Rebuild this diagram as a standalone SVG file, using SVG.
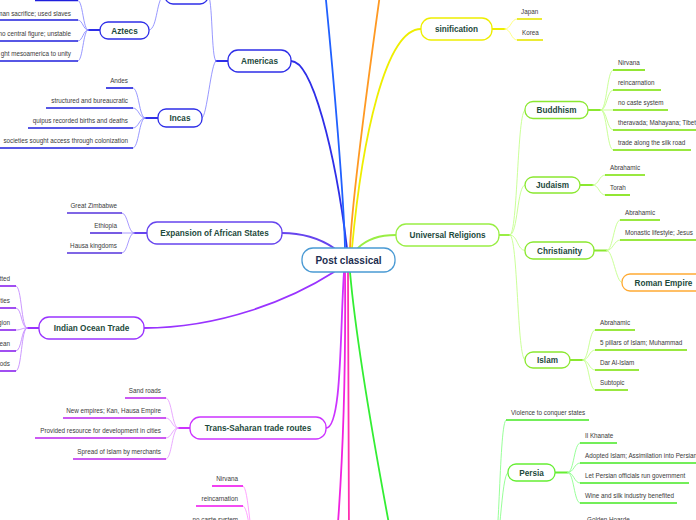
<svg xmlns="http://www.w3.org/2000/svg" width="696" height="520" viewBox="0 0 696 520">
<style>
.c{fill:none;stroke-linecap:round}
.m{stroke-width:1.8}
.s{stroke-width:0.9}
.u{fill:none;stroke-width:1.6}
.box{fill:#fff;stroke-width:1.3}
.l{font-family:"Liberation Sans",Arial,sans-serif;font-size:6.3px;fill:#3a3a3a}
.e{text-anchor:end}
.nt{font-family:"Liberation Sans",Arial,sans-serif;font-size:8.2px;font-weight:bold;fill:#1d4a3c;text-anchor:middle}
.ct{font-family:"Liberation Sans",Arial,sans-serif;font-size:10px;font-weight:bold;fill:#1c2e50;text-anchor:middle}
.am{stroke:#2e2ee8}.amL{stroke:#8c8cff}.amU{stroke:#1f1fdd}
.lb{stroke:#2060ff}
.or{stroke:#ff9922}
.ye{stroke:#eeee00}.yeL{stroke:#ffff77}.yeU{stroke:#e6e600}
.ur{stroke:#99ee44}.urL{stroke:#c4ff8c}.urU{stroke:#77e000}.urB{stroke:#8be830}
.ro{stroke:#ffaa33}
.ex{stroke:#6644ee}.exL{stroke:#a090ff}.exU{stroke:#5533dd}
.io{stroke:#9933ff}.ioL{stroke:#c58cff}.ioU{stroke:#8a22ee}
.ts{stroke:#cc33ff}.tsL{stroke:#e6a0ff}.tsU{stroke:#bb22ee}
.mg{stroke:#f022e0}.pk{stroke:#ff2fb0}.mgL{stroke:#ff99ff}.mgU{stroke:#ee11ee}
.gr{stroke:#33ee33}.grL{stroke:#8cff8c}.grU{stroke:#44e822}.grB{stroke:#66ee33}
.cen{stroke:#4a9ad4}
</style>

<g id="connectors">
<!-- main branches -->
<path class="c m am" d="M291,61 C312,61 335,150 347,248"/>
<path class="c m lb" d="M345,248 C344,200 334,80 324,-20"/>
<path class="c m or" d="M350,248 C352,200 368,80 382,-20"/>
<path class="c m ye" d="M352,248 C362,140 385,29 421,29"/>
<path class="c m ex" d="M282,233 C305,233 322,240 334,248"/>
<path class="c m io" d="M144,328 C220,328 290,300 334,272"/>
<path class="c m ur" d="M358,248 C368,238 380,235 396,235"/>
<path class="c m ts" d="M326,428 C342,428 340,330 344,272"/>
<path class="c m mg" d="M345,272 C346,380 343,470 335,560"/>
<path class="c m pk" d="M348,272 C348,380 349,460 349,540"/>
<path class="c m gr" d="M350,272 C356,340 375,450 392,540"/>
<!-- Americas -->
<path class="c m am" d="M228,61 L216,61"/>
<path class="c s amL" d="M216,61 C211,61 213,-5 208,-5"/>
<path class="c s amL" d="M216,61 C211,61 207,118 202,118"/>
<path class="c s amL" d="M165,-5 C156,-5 158,30 149,30"/>
<!-- Aztecs -->
<path class="c m am" d="M100,30 L88,30"/>
<path class="c s amL" d="M88,30 C83,30 83,0.5 78,0.5"/>
<path class="c s amL" d="M88,30 C83,30 83,20 78,20"/>
<path class="c s amL" d="M88,30 C83,30 83,41 78,41"/>
<path class="c s amL" d="M88,30 C83,30 83,61 78,61"/>
<!-- Incas -->
<path class="c m am" d="M158,118 L145,118"/>
<path class="c s amL" d="M145,118 C139,118 139,88 133,88"/>
<path class="c s amL" d="M145,118 C139,118 139,108 133,108"/>
<path class="c s amL" d="M145,118 C139,118 139,128 133,128"/>
<path class="c s amL" d="M145,118 C139,118 139,148 133,148"/>
<!-- Expansion -->
<path class="c m ex" d="M147,233 L134,233"/>
<path class="c s exL" d="M134,233 C128,233 128,213 122,213"/>
<path class="c s exL" d="M134,233 L122,233"/>
<path class="c s exL" d="M134,233 C128,233 128,253 122,253"/>
<!-- Indian Ocean -->
<path class="c m io" d="M39,328 L27,328"/>
<path class="c s ioL" d="M27,328 C21,328 22,286 16,286"/>
<path class="c s ioL" d="M27,328 C21,328 22,308 16,308"/>
<path class="c s ioL" d="M27,328 C21,328 22,330 16,330"/>
<path class="c s ioL" d="M27,328 C21,328 22,351 16,351"/>
<path class="c s ioL" d="M27,328 C21,328 22,371 16,371"/>
<!-- Trans-Saharan -->
<path class="c m ts" d="M190,428 L178,428"/>
<path class="c s tsL" d="M178,428 C172,428 172,398 166,398"/>
<path class="c s tsL" d="M178,428 C172,428 172,418 166,418"/>
<path class="c s tsL" d="M178,428 C172,428 172,438 166,438"/>
<path class="c s tsL" d="M178,428 C172,428 172,459 166,459"/>
<!-- bottom magenta group -->
<path class="c s mgL" d="M256,548 C250,548 249,486 243,486"/>
<path class="c s mgL" d="M256,548 C250,548 249,506 243,506"/>
<path class="c s mgL" d="M256,548 C250,548 249,526 243,526"/>
<!-- sinification -->
<path class="c m ye" d="M492,29 L505,29"/>
<path class="c s yeL" d="M505,29 C511,29 511,19 517,19"/>
<path class="c s yeL" d="M505,29 C511,29 511,40 517,40"/>
<!-- Universal Religions -->
<path class="c m ur" d="M499,235 L510,235"/>
<path class="c s urL" d="M510,235 C518,235 517,110 525,110"/>
<path class="c s urL" d="M510,235 C518,235 517,185 525,185"/>
<path class="c s urL" d="M510,235 C518,235 517,250.5 525,250.5"/>
<path class="c s urL" d="M510,235 C518,235 517,360 525,360"/>
<!-- Buddhism -->
<path class="c m urB" d="M588,110 L601,110"/>
<path class="c s urL" d="M601,110 C607,110 607,70 613,70"/>
<path class="c s urL" d="M601,110 C607,110 607,90 613,90"/>
<path class="c s urL" d="M601,110 L613,110"/>
<path class="c s urL" d="M601,110 C607,110 607,130 613,130"/>
<path class="c s urL" d="M601,110 C607,110 607,150 613,150"/>
<!-- Judaism -->
<path class="c m urB" d="M580,185 L593,185"/>
<path class="c s urL" d="M593,185 C599,185 599,175 605,175"/>
<path class="c s urL" d="M593,185 C599,185 599,195 605,195"/>
<!-- Christianity -->
<path class="c m urB" d="M594,250.5 L607,250.5"/>
<path class="c s urL" d="M607,250.5 C613,250.5 614,220 620,220"/>
<path class="c s urL" d="M607,250.5 C613,250.5 614,240 620,240"/>
<path class="c s urL" d="M607,250.5 C613,250.5 616,282.5 622,282.5"/>
<!-- Islam -->
<path class="c m urB" d="M570,360 L583,360"/>
<path class="c s urL" d="M583,360 C589,360 589,330 595,330"/>
<path class="c s urL" d="M583,360 C589,360 589,350 595,350"/>
<path class="c s urL" d="M583,360 C589,360 589,370 595,370"/>
<path class="c s urL" d="M583,360 C589,360 589,390 595,390"/>
<!-- lower green -->
<path class="c s grL" d="M493,560 C500,560 499,420 506,420"/>
<path class="c s grL" d="M493,560 C500,560 501,472.5 508,472.5"/>
<path class="c m grB" d="M555,472.5 L568,472.5"/>
<path class="c s grL" d="M568,472.5 C574,472.5 574,443 580,443"/>
<path class="c s grL" d="M568,472.5 C574,472.5 574,463 580,463"/>
<path class="c s grL" d="M568,472.5 C574,472.5 574,483 580,483"/>
<path class="c s grL" d="M568,472.5 C574,472.5 574,503 580,503"/>
</g>

<g id="n-central"><rect class="box cen" x="302" y="248" width="93" height="24" rx="11"/><text class="ct" x="348.5" y="263.6">Post classical</text></g>

<g id="n-americas"><rect class="box am" x="228" y="50" width="63" height="22" rx="10"/><text class="nt" x="259.5" y="64">Americas</text></g>
<g id="n-americas-top"><rect class="box am" x="165" y="-14" width="43" height="18" rx="8"/></g>
<g id="n-aztecs"><rect class="box am" x="100" y="22" width="49" height="17" rx="8"/><text class="nt" x="124.5" y="33.5">Aztecs</text></g>
<g id="n-az0"><line class="u amU" x1="35" y1="0.5" x2="78" y2="0.5"/></g>
<g id="n-az1"><text class="l e" x="71" y="15.5">man sacrifice; used slaves</text><line class="u amU" x1="0" y1="20" x2="78" y2="20"/></g>
<g id="n-az2"><text class="l e" x="71" y="36">no central figure; unstable</text><line class="u amU" x1="0" y1="41" x2="78" y2="41"/></g>
<g id="n-az3"><text class="l e" x="71" y="56">ght mesoamerica to unity</text><line class="u amU" x1="0" y1="61" x2="78" y2="61"/></g>
<g id="n-incas"><rect class="box am" x="158" y="109" width="44" height="18" rx="8"/><text class="nt" x="180" y="121">Incas</text></g>
<g id="n-in1"><text class="l e" x="128" y="83">Andes</text><line class="u amU" x1="106" y1="88" x2="133" y2="88"/></g>
<g id="n-in2"><text class="l e" x="128" y="103">structured and bureaucratic</text><line class="u amU" x1="46" y1="108" x2="133" y2="108"/></g>
<g id="n-in3"><text class="l e" x="128" y="123">quipus recorded births and deaths</text><line class="u amU" x1="28" y1="128" x2="133" y2="128"/></g>
<g id="n-in4"><text class="l e" x="128" y="143">societies sought access through colonization</text><line class="u amU" x1="0" y1="148" x2="133" y2="148"/></g>

<g id="n-expansion"><rect class="box ex" x="147" y="222" width="135" height="22" rx="10"/><text class="nt" x="214.5" y="236">Expansion of African States</text></g>
<g id="n-ex1"><text class="l e" x="117" y="208">Great Zimbabwe</text><line class="u exU" x1="67" y1="213" x2="122" y2="213"/></g>
<g id="n-ex2"><text class="l e" x="117" y="228">Ethiopia</text><line class="u exU" x1="90" y1="233" x2="122" y2="233"/></g>
<g id="n-ex3"><text class="l e" x="117" y="248">Hausa kingdoms</text><line class="u exU" x1="67" y1="253" x2="122" y2="253"/></g>

<g id="n-indian"><rect class="box io" x="39" y="317" width="105" height="22" rx="10"/><text class="nt" x="91.5" y="331">Indian Ocean Trade</text></g>
<g id="n-io1"><text class="l e" x="10" y="281">tted</text><line class="u ioU" x1="0" y1="286" x2="16" y2="286"/></g>
<g id="n-io2"><text class="l e" x="10" y="303">ties</text><line class="u ioU" x1="0" y1="308" x2="16" y2="308"/></g>
<g id="n-io3"><text class="l e" x="10" y="325">gion</text><line class="u ioU" x1="0" y1="330" x2="16" y2="330"/></g>
<g id="n-io4"><text class="l e" x="10" y="346">ean</text><line class="u ioU" x1="0" y1="351" x2="16" y2="351"/></g>
<g id="n-io5"><text class="l e" x="10" y="366">ods</text><line class="u ioU" x1="0" y1="371" x2="16" y2="371"/></g>

<g id="n-trans"><rect class="box ts" x="190" y="417" width="136" height="22" rx="10"/><text class="nt" x="258" y="431">Trans-Saharan trade routes</text></g>
<g id="n-ts1"><text class="l e" x="161" y="393">Sand roads</text><line class="u tsU" x1="125" y1="398" x2="166" y2="398"/></g>
<g id="n-ts2"><text class="l e" x="161" y="413">New empires; Kan, Hausa Empire</text><line class="u tsU" x1="63" y1="418" x2="166" y2="418"/></g>
<g id="n-ts3"><text class="l e" x="161" y="433">Provided resource for development in cities</text><line class="u tsU" x1="35" y1="438" x2="166" y2="438"/></g>
<g id="n-ts4"><text class="l e" x="161" y="454">Spread of Islam by merchants</text><line class="u tsU" x1="73" y1="459" x2="166" y2="459"/></g>

<g id="n-mg1"><text class="l e" x="238" y="481">Nirvana</text><line class="u mgU" x1="212" y1="486" x2="243" y2="486"/></g>
<g id="n-mg2"><text class="l e" x="238" y="501">reincarnation</text><line class="u mgU" x1="196" y1="506" x2="243" y2="506"/></g>
<g id="n-mg3"><text class="l e" x="238" y="521.5">no caste system</text></g>

<g id="n-sinification"><rect class="box ye" x="421" y="18" width="71" height="22" rx="10"/><text class="nt" x="456.5" y="32">sinification</text></g>
<g id="n-si1"><text class="l" x="521" y="14">Japan</text><line class="u yeU" x1="517" y1="19" x2="542" y2="19"/></g>
<g id="n-si2"><text class="l" x="522" y="35">Korea</text><line class="u yeU" x1="517" y1="40" x2="543" y2="40"/></g>

<g id="n-universal"><rect class="box ur" x="396" y="224" width="103" height="22" rx="10"/><text class="nt" x="447.5" y="238">Universal Religions</text></g>
<g id="n-buddhism"><rect class="box urB" x="525" y="101.5" width="63" height="17" rx="8"/><text class="nt" x="556.5" y="113">Buddhism</text></g>
<g id="n-bu1"><text class="l" x="618" y="65">Nirvana</text><line class="u urU" x1="613" y1="70" x2="645" y2="70"/></g>
<g id="n-bu2"><text class="l" x="618" y="85">reincarnation</text><line class="u urU" x1="613" y1="90" x2="661" y2="90"/></g>
<g id="n-bu3"><text class="l" x="618" y="105">no caste system</text><line class="u urU" x1="613" y1="110" x2="668" y2="110"/></g>
<g id="n-bu4"><text class="l" x="618" y="125">theravada; Mahayana; Tibet</text><line class="u urU" x1="613" y1="130" x2="700" y2="130"/></g>
<g id="n-bu5"><text class="l" x="618" y="145">trade along the silk road</text><line class="u urU" x1="613" y1="150" x2="691" y2="150"/></g>
<g id="n-judaism"><rect class="box urB" x="525" y="177" width="55" height="16" rx="8"/><text class="nt" x="552.5" y="188">Judaism</text></g>
<g id="n-ju1"><text class="l" x="610" y="170">Abrahamic</text><line class="u urU" x1="605" y1="175" x2="645" y2="175"/></g>
<g id="n-ju2"><text class="l" x="610" y="190">Torah</text><line class="u urU" x1="605" y1="195" x2="630" y2="195"/></g>
<g id="n-christianity"><rect class="box urB" x="525" y="242" width="69" height="17" rx="8"/><text class="nt" x="559.5" y="253.5">Christianity</text></g>
<g id="n-ch1"><text class="l" x="625" y="215">Abrahamic</text><line class="u urU" x1="620" y1="220" x2="660" y2="220"/></g>
<g id="n-ch2"><text class="l" x="625" y="235">Monastic lifestyle; Jesus</text><line class="u urU" x1="620" y1="240" x2="700" y2="240"/></g>
<g id="n-roman"><rect class="box ro" x="622" y="274" width="92" height="17" rx="8"/><text class="nt" x="663.5" y="285.5">Roman Empire</text></g>
<g id="n-islam"><rect class="box urB" x="525" y="352" width="45" height="16" rx="8"/><text class="nt" x="547.5" y="363">Islam</text></g>
<g id="n-is1"><text class="l" x="600" y="325">Abrahamic</text><line class="u urU" x1="595" y1="330" x2="635" y2="330"/></g>
<g id="n-is2"><text class="l" x="600" y="345">5 pillars of Islam; Muhammad</text><line class="u urU" x1="595" y1="350" x2="687" y2="350"/></g>
<g id="n-is3"><text class="l" x="600" y="365">Dar Al-Islam</text><line class="u urU" x1="595" y1="370" x2="639" y2="370"/></g>
<g id="n-is4"><text class="l" x="600" y="385">Subtopic</text><line class="u urU" x1="595" y1="390" x2="628" y2="390"/></g>

<g id="n-violence"><text class="l" x="511" y="415">Violence to conquer states</text><line class="u grU" x1="506" y1="420" x2="589" y2="420"/></g>
<g id="n-persia"><rect class="box grB" x="508" y="464" width="47" height="17" rx="8"/><text class="nt" x="531.5" y="475.5">Persia</text></g>
<g id="n-pe1"><text class="l" x="585" y="438">Il Khanate</text><line class="u grU" x1="580" y1="443" x2="617" y2="443"/></g>
<g id="n-pe2"><text class="l" x="585" y="458">Adopted Islam; Assimilation into Persian</text><line class="u grU" x1="580" y1="463" x2="700" y2="463"/></g>
<g id="n-pe3"><text class="l" x="585" y="478">Let Persian officials run government</text><line class="u grU" x1="580" y1="483" x2="689" y2="483"/></g>
<g id="n-pe4"><text class="l" x="585" y="498">Wine and silk industry benefited</text><line class="u grU" x1="580" y1="503" x2="677" y2="503"/></g>
<g id="n-golden"><text class="l" x="587" y="522">Golden Hoarde</text></g>
</svg>
